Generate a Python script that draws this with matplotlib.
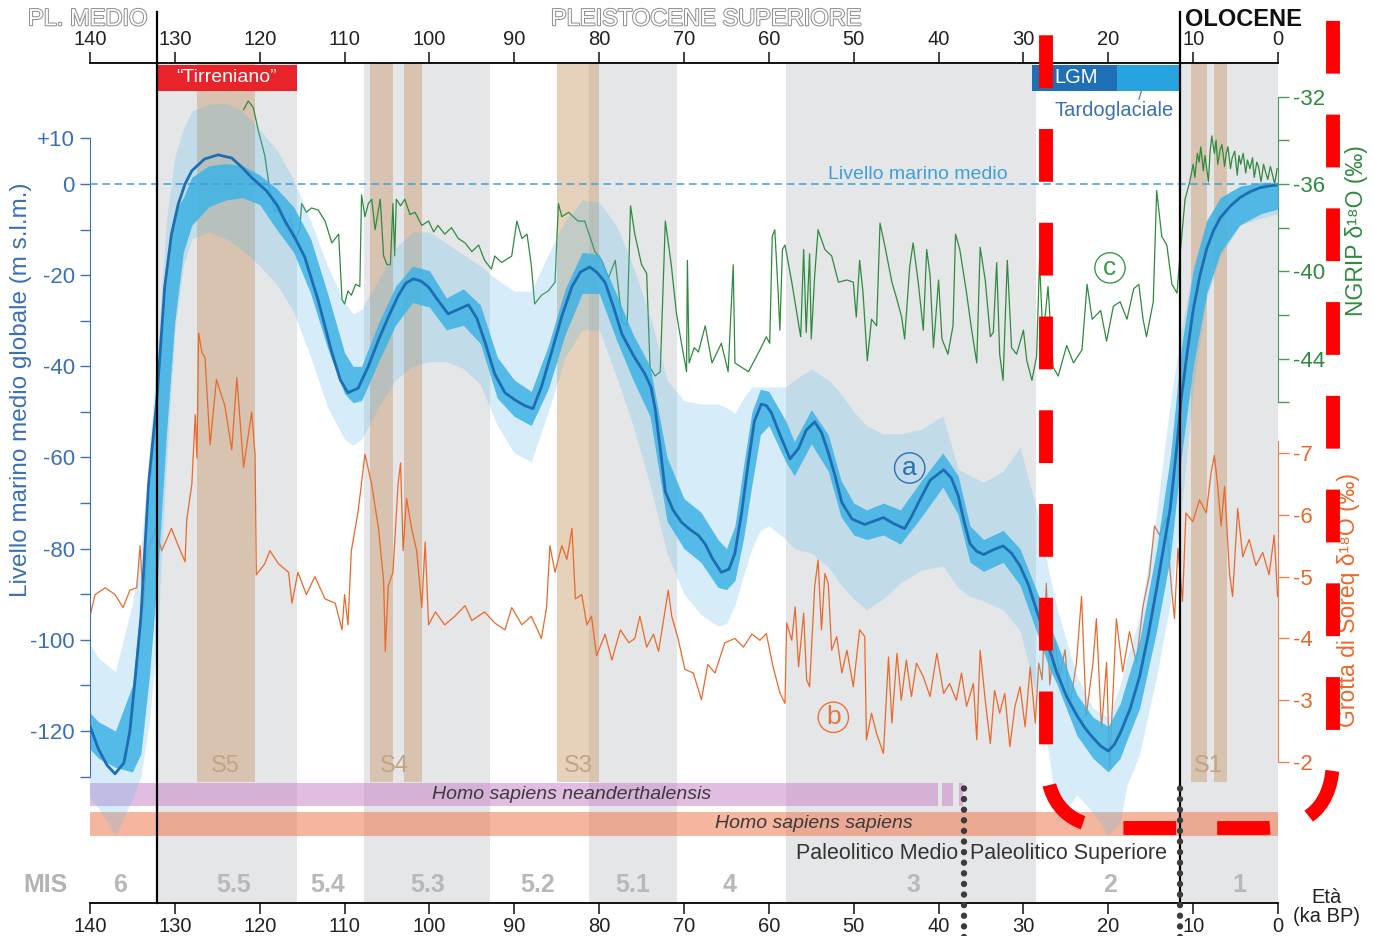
import matplotlib
matplotlib.use("Agg")
import matplotlib.pyplot as plt
import matplotlib.patheffects as pe
from matplotlib.patches import FancyBboxPatch

plt.rcParams['font.family'] = ['Liberation Sans', 'DejaVu Sans']

# --- data (ages in ka BP) ---------------------------------------------------
# (a) global mean sea level, m
SL_AGE = [140, 139, 138, 137.05, 136, 135.3, 134.7, 134, 133.1, 132.1, 131.2, 130.4,
          129.6, 128.8, 128, 126.5, 124.9, 123.3, 122, 120.95, 119.2, 118, 117, 115.8,
          114.7, 113.1, 111.5, 110.5, 109.6, 108.4, 107.2, 106, 104.8, 103.7, 102.8,
          101.9, 101, 100.1, 99, 97.8, 96.6, 95.4, 94.4, 93.4, 92.3, 91.1, 89.9, 88.8,
          87.8, 86.8, 85.6, 84.4, 83.2, 82.2, 81.1, 80.2, 79.3, 78.3, 77.3, 76, 74.6,
          73.9, 73.4, 72.8, 72.2, 71.3, 70.3, 69.3, 68.3, 67.5, 66.7, 65.6, 64.7, 64,
          63.2, 62.4, 61.7, 60.9, 60.3, 59.7, 58.7, 57.5, 56.5, 55.6, 54.6, 53.8, 53,
          52.2, 51.4, 50.2, 48.7, 47.7, 46.5, 45.3, 44, 43.2, 42.2, 41, 39.4, 38.5,
          37.7, 37, 36.3, 35.5, 34.7, 33.5, 32.4, 31.4, 30.4, 29.4, 28.45, 27.2, 26.1,
          24.9, 23.7, 22.7, 21.8, 20.9, 20, 19.3, 18.6, 17.4, 16.3, 15.3, 14.3, 13.5,
          12.7, 12, 11.4, 10.7, 10, 9.2, 8.4, 7.6, 6.8, 5.6, 4.5, 3.3, 2.1, 1, 0]
SL_M = [-119, -124, -127.5, -129.4, -127, -120, -109, -95, -66, -46.7, -22.6, -11,
        -4.4, 0, 2.9, 5.5, 6.4, 5.7, 3.5, 1.4, -1.5, -4.5, -8.2, -12,
        -16, -25.6, -37, -43, -45.8, -44.8, -40, -34.2, -29, -24.6, -21.8,
        -20.8, -21.3, -22.6, -25.5, -28.5, -27.5, -26.5, -29.5, -35, -41.7, -45.8, -47.4, -48.6,
        -49.3, -44.5, -36.9, -29, -22.5, -19.3, -18.2, -19.5, -21.6, -27, -33, -37.5, -41.7,
        -44.5, -49.3, -58, -67.5, -71.5, -74.2, -75.8, -77.1, -79, -82, -85.2, -84.5, -81,
        -72, -60.8, -52, -48.3, -48.6, -50.2, -55, -60.3, -58, -54, -52.2, -54.5, -58.9,
        -64, -69.9, -73.5, -74.7, -74, -73.2, -74.5, -75.6, -73, -69.3, -65, -62.7, -64.5,
        -68.3, -74, -78.9, -80.6, -81.3, -80.2, -79.4, -81, -83.8, -88, -93.5, -100.5, -107,
        -112.5, -116.6, -119.5, -121.5, -123.3, -124.4, -123, -120.5, -115, -108, -99, -88.7, -80,
        -71.2, -59, -47, -37, -27.7, -20, -14.2, -10.2, -7.4, -4.8, -3, -1.7, -0.8, -0.4, -0.2]

# uncertainty envelopes of (a)
BAND_AGE = [141, 139, 137, 135, 134, 133, 132, 131, 130, 129, 128, 126, 124, 122, 120,
            118, 116, 114, 112, 110, 109, 108, 106, 104, 102, 100, 98, 96, 94, 92, 90,
            88, 86, 84, 82, 80, 78, 76, 74, 72, 70, 68, 66, 65, 64, 63, 62, 61, 60, 58,
            57, 55, 53, 51.5, 50, 48.5, 46.5, 44.5, 42, 39.5, 37.7, 36.3, 34.7, 32.4,
            30.4, 28.5, 27, 26, 23.7, 21.8, 20, 18.6, 17.8, 16.3, 14.3, 12.7, 11.4, 10,
            8.4, 6.8, 4.5, 2, 0]
INNER_HI = [-114, -118, -120, -110, -92, -66, -42, -18, -6, -3, 1.5, 4, 4.5, 4, 2,
            -1, -5, -12, -24, -37, -40, -40, -30.5, -22.5, -18, -19, -25, -23, -26.5, -38, -43,
            -45.5, -35.5, -23, -15, -15.5, -24, -33, -40, -60, -69, -72, -78, -80, -75, -62, -50, -45, -45.5, -52,
            -56.5, -49.5, -55, -65, -70, -71.5, -70, -71.5, -65, -59, -64, -75, -78, -76,
            -80, -89, -96, -101, -112, -117, -119, -114, -109, -100, -80, -60, -36, -19,
            -8, -3, -0.5, 0.3, 0.3]
INNER_LO = [-122, -126, -128, -129, -125, -108, -85, -55, -30, -15, -9, -5, -3.5, -3, -4.5,
            -10, -15, -24, -36, -46, -48, -47.5, -39, -31, -26, -27, -32, -31, -35, -47, -51,
            -53, -45, -33, -24, -24, -34, -43, -51, -74, -80, -83, -88.5, -89, -87, -78, -66, -55, -53, -61,
            -64, -57, -63, -73, -77, -78, -77, -79, -73, -66.5, -72.5, -83, -85, -83,
            -88, -98, -106, -110, -121, -126, -129, -126, -122, -115, -98, -82, -60, -40,
            -24, -15, -9, -6.5, -5.5]
OUTER_HI = [-98, -104, -107, -92, -80, -58, -35, -8, 6, 12, 16, 17.5, 17.7, 16, 12,
            7.5, 1, -8, -18, -26, -28.5, -27.5, -21, -14, -10.5, -10.5, -13, -15.5, -18, -21, -23.5,
            -23.5, -15.5, -8, -3.5, -4, -9, -18, -29, -43, -47.5, -48.3, -48.3, -49, -50.3, -47, -44.5, -44.5, -44.5, -44.5,
            -43, -40.6, -43, -46, -50, -53, -54.8, -54.8, -53.8, -50.9, -62.5, -64, -65.4, -63,
            -57.7, -71, -85, -93.4, -108, -115, -117, -110, -104, -95, -72, -48, -32, -18,
            -8, -3, -0.5, 0.5, 0.5]
OUTER_LO = [-132, -137, -143, -135, -130, -118, -98, -62, -32, -18, -12, -10.5, -12, -14.5, -18,
            -22, -28, -38, -49, -56, -57.3, -56, -49, -43, -40, -39, -39, -40.5, -44, -53, -59,
            -61, -50, -38, -32, -32, -42, -53, -66, -81, -90, -94.5, -97, -96.5, -92.5, -86, -80, -76, -75, -78,
            -80, -81, -84, -88, -91, -93.4, -91, -87.5, -84.7, -83.8, -88.6, -90.5, -91.5, -93.4,
            -98, -112, -125, -140, -134, -138, -143, -140, -132, -125, -108, -92, -72, -45,
            -25, -16, -9, -7.5, -6.5]

# (c) NGRIP d18O, permil
NG_AGE = [121.9, 121.35, 120.75, 120.2, 119.4, 118.8, 118.2, 117.6, 117, 116.4, 115.8, 115.3,
          115.05, 114.5, 113.9, 113.1, 112.3, 111.5, 110.7, 110.3, 110, 109.6, 109.2, 108.7,
          108.2, 108, 107.6, 107.2, 106.8, 106.4, 105.8, 105.4, 105, 104.6, 104.3, 104.1,
          103.9, 103.4, 102.9, 102.3, 101.7, 100.9, 100.1, 99.5, 99, 98.2, 97.4, 96.6, 95.8,
          95, 94.2, 93.5, 92.7, 92.3, 91.5, 91.1, 90.3, 89.7, 89.1, 88.5, 88, 87.6, 86.8,
          86, 85.2, 84.8, 84.4, 83.6, 82.5, 81.7, 80.5, 79.7, 78.9, 78.1, 77.3, 76.7, 76.3,
          75.8, 75, 74.4, 74, 73.4, 72.8, 72.2, 71.5, 70.9, 70.3, 69.7, 69.6, 69.4, 68.8,
          68.3, 67.5, 66.7, 65.6, 64.8, 64.2, 64, 63.2, 62.4,
          61.05, 60.3, 59.9, 59.6, 59.3, 58.9, 58.7, 58.4, 58.1, 57.3, 56.5, 56.25, 55.9,
          55.6, 55.2, 55.0, 54.6, 54.2, 53.4, 52.6, 51.8, 50.8, 50.05, 49.7, 49.3, 48.9,
          48.4, 47.9, 47.3, 46.9, 46.3, 45.5, 44.9, 44.35, 44.0, 43.4, 43.0, 42.4, 41.8,
          41.4, 41.0, 40.6, 40.0, 39.6, 38.9, 38.3, 38.0, 37.5, 36.7, 36.1, 35.5, 35.1,
          34.5, 33.9, 33.55, 33.15, 32.8, 32.4, 31.9, 31.4, 30.8, 30.0, 29.6, 29.0, 28.45,
          28.1, 27.7, 27.1, 26.5,
          25.9, 24.9, 24.1, 23.1, 22.5, 21.9, 20.9, 20.2, 19.4, 18.6, 17.8, 17, 16.4, 15.9,
          15.5, 14.7, 14.3, 13.7, 13.1, 12.5, 11.9, 11.6, 11.35, 10.95, 10.4,
          10, 9.8, 9.5, 9.3, 9.1, 8.8, 8.6, 8.2, 8.0, 7.8, 7.5, 7.3, 7.1, 6.8, 6.6, 6.3, 6.1,
          5.9, 5.6, 5.4, 5.1, 4.8, 4.6, 4.4, 4.1, 3.8, 3.6, 3.3, 3.0, 2.8, 2.5, 2.3, 2.0,
          1.7, 1.5, 1.2, 0.9, 0.7, 0.4, 0.1]
NG_D18O = [-32.6, -32.2, -32.5, -33.5, -34.7, -36.3, -37.3, -37.0, -37.9, -37.6, -38.5, -38.1,
           -36.9, -37.3, -37.1, -37.2, -37.7, -38.7, -38.3, -41.3, -41.5, -40.9, -41.1, -40.6,
           -40.7, -36.5, -37.5, -36.9, -36.7, -38.1, -36.7, -39.3, -39.7, -39.7, -36.9, -39.3,
           -36.7, -37.0, -36.7, -37.4, -37.3, -37.9, -37.7, -38.2, -37.9, -38.3, -38.0, -38.5, -38.7,
           -39.1, -38.8, -39.5, -39.9, -39.3, -39.6, -39.5, -39.3, -37.7, -38.5, -38.3, -39.7, -41.5, -41.1,
           -40.9, -40.5, -36.9, -37.5, -37.3, -37.7, -37.7, -39.1, -39.5, -40.3, -39.5, -42.3, -42.5, -37,
           -38.3, -39.7, -40.1, -44.4, -44.8, -44.6, -37.7, -39.7, -41.9, -43.3, -44.6, -39.5, -44.2, -43.5,
           -43.7, -42.5, -44.2, -43.3, -44.6, -39.7, -44.2, -44.4, -44.6,
           -43.6, -43.0, -43.3, -38.4, -38.1, -41.0, -42.7, -39.0, -38.8, -40.5, -42.4, -43.0, -39.0,
           -42.8, -39.2, -43.1, -40.2, -38.1, -39.0, -39.3, -40.5, -40.4, -40.5, -42.1, -39.5, -41.0,
           -44.1, -42.2, -42.5, -37.8, -38.9, -40.5, -41.3, -42.1, -43.1, -39.8, -38.7, -40.5, -42.7,
           -39.0, -40.2, -43.5, -40.4, -43.1, -43.8, -42.5, -38.3, -39.0, -41.0, -42.7, -44.2, -38.9,
           -40.4, -43.0, -42.8, -39.6, -43.8, -45.0, -39.5, -43.5, -43.8, -42.7, -44.1, -45.0, -43.9,
           -39.5, -43.1, -40.7, -44.4,
           -44.8, -43.4, -44.2, -43.6, -40.6, -42.2, -41.8, -43.2, -41.6, -41.4, -42.2, -40.8, -40.6, -42.2,
           -43, -41.4, -36.3, -38.4, -38.8, -40.6, -41, -39.5, -38.4, -36.7, -35.9,
           -35.1, -35.7, -34.6, -35.0, -34.3, -35.4, -34.7, -35.9, -34.5, -33.8, -34.6, -34.0, -35.1,
           -34.4, -34.2, -35.2, -34.6, -34.3, -35.3, -34.8, -34.5, -35.6, -34.7, -35.1, -34.6, -35.5,
           -34.9, -35.3, -34.8, -35.7, -35.0, -35.2, -35.9, -35.1, -35.4, -35.8, -35.2, -35.5, -36.0,
           -35.3]

# (b) Soreq cave speleothem d18O, permil
SO_AGE = [140, 139.4, 138.2, 137.05, 136.1, 135.3, 134.5, 134.1, 133.7, 133.3, 132.3, 131.55,
          130.4, 129.6, 128.8, 128.6, 128, 127.6, 127.4, 127.2, 126.8, 126.45, 125.85, 125.1,
          124.1, 123.3, 122.7, 121.9, 120.95, 120.55, 120.4, 119.4, 118.8, 117.8, 116.6, 116.2,
          115.5, 114.5, 113.5, 112.3, 111.1, 110.3, 110, 109.6, 109.2, 108.4, 107.6, 106.8,
          106, 105.4, 105.2, 104.85, 104.3, 103.7, 103.4, 103.1, 102.7, 102.1, 101.5, 100.9,
          100.5, 100.1, 99.3, 98.2, 97, 95.8, 95, 93.5, 92.3, 91.1, 90.3, 89.1, 88, 86.8,
          86.2, 85.8, 85.2, 84.4, 83.8, 83.2, 82.8, 82.05, 81.45, 80.9, 80.3, 79.3, 78.5,
          77.5, 76.5, 75.8, 75.2, 74.4, 73.6, 73, 71.85, 71.45, 70.7, 69.9, 68.9, 67.95,
          67.2, 66.35, 65.2, 64, 63, 62,
          61.05, 60.3, 59.5, 58.7, 58.1, 57.9, 57.3, 56.9, 56.5, 55.9, 55.55, 55.2, 54.6,
          54.2, 53.8, 53.4, 53.0, 52.6, 52.0, 51.4, 50.8, 50.05, 49.3, 48.7, 48.5, 47.9,
          47.3, 46.5, 45.9, 45.5, 44.9, 44.4, 43.8, 43.2, 42.6, 41.8, 41.0, 40.2, 39.4,
          38.7, 37.9, 37.3, 36.7, 35.9, 35.5, 35.1, 34.5, 33.9, 33.4, 32.8, 32.2, 31.6,
          31.0, 30.4, 29.8, 29.2, 28.6, 28.2, 27.8, 27.3,
          26.9, 26.3, 25.7, 25.1, 24.55, 23.75, 23.15, 22.6, 21.8, 21.4, 20.8,
          20.2, 19.85, 19.05, 18.3, 17.5, 16.7, 15.9, 15.15, 14.55, 13.95, 13.2, 12.6, 12.2,
          11.8, 11.25, 10.85, 10.05, 9.25, 8.45, 7.9, 7.5, 7.1, 6.7, 6.3, 5.7, 5.35, 4.75,
          4.15, 3.4, 2.6, 1.8, 1.05, 0.45, 0.05]
SO_D18O = [-4.36, -4.71, -4.82, -4.71, -4.5, -4.78, -4.82, -5.5, -4.5, -5.35, -5.78, -5.42,
           -5.78, -5.5, -5.24, -5.92, -6.49, -7.62, -6.92, -8.94, -8.62, -8.55, -7.13, -8.19,
           -7.76, -7.05, -8.22, -6.77, -7.66, -6.98, -5.03, -5.21, -5.42, -5.21, -5.07, -4.57,
           -5.07, -4.71, -5.0, -4.64, -4.57, -4.14, -4.71, -4.22, -5.42, -6.06, -6.98, -6.49,
           -5.78, -4.93, -3.79, -4.85, -5.07, -6.49, -6.84, -5.42, -6.27, -5.78, -5.42, -4.5,
           -5.56, -4.22, -4.43, -4.22, -4.36, -4.53, -4.29, -4.43, -4.25, -4.14, -4.5, -4.22, -4.36, -4.0,
           -4.5, -5.5, -5.07, -5.5, -5.28, -5.78, -4.64, -4.71, -4.22, -4.36, -3.72, -4.07, -3.65,
           -4.14, -3.93, -4.0, -4.36, -3.86, -4.07, -3.79, -4.78, -4.36, -4.0, -3.5, -3.44, -3.01,
           -3.58, -3.44, -3.93, -4.0, -3.86, -4.07,
           -3.97, -4.08, -3.54, -3.12, -2.95, -4.25, -3.97, -4.51, -3.54, -4.41, -3.33, -3.22, -4.84,
           -5.27, -4.14, -5.05, -4.89, -3.81, -4.03, -3.44, -3.81, -3.22, -4.14, -4.03, -2.36, -2.79,
           -2.46, -2.14, -3.7, -2.63, -3.76, -3.0, -3.65, -3.06, -3.6, -3.38, -3.06, -3.76, -3.11,
           -3.27, -3.0, -3.44, -2.9, -3.27, -2.36, -3.81, -3.0, -2.3, -3.16, -2.79, -3.11, -2.25,
           -2.9, -3.22, -2.57, -3.54, -2.63, -3.6, -3.33, -4.89,
           -3.25, -3.96, -3.39, -3.82, -2.89, -3.61, -4.68, -2.75, -3.61, -4.32, -2.54,
           -3.61, -1.9, -4.32, -3.46, -4.11, -3.61, -4.53, -5.03, -5.82, -5.67, -5.96, -4.89, -4.32,
           -5.46, -4.6, -6.03, -5.89, -6.24, -6.03, -6.67, -6.96, -6.46, -5.82, -6.46, -5.03, -4.68, -6.1,
           -5.32, -5.6, -5.18, -5.39, -5.03, -5.67, -4.68]

# marine isotope stages (grey) and sapropels (tan)
MIS_GREY = [(132.1, 115.6), (107.7, 92.9), (81.2, 70.8), (58.0, 28.5), (11.6, 0)]
MIS_LABELS = ['6', '5.5', '5.4', '5.3', '5.2', '5.1', '4', '3', '2', '1']
MIS_LABEL_AGE = [136.5, 123.1, 112.0, 100.2, 87.2, 76.1, 64.6, 43.0, 19.8, 4.5]
SAPROPELS = [(127.4, 120.6), (107.0, 104.3), (103.0, 100.9), (85.0, 80.0), (10.3, 8.4), (7.6, 6.0)]
SAP_LABELS = ['S5', 'S4', 'S3', 'S1']
SAP_LABEL_AGE = [124.1, 104.1, 82.5, 8.25]

NEANDER = [(140, 40.1), (39.6, 38.3), (37.6, 37.1)]
SAPIENS = [(140, 0)]
TIRRENIANO = (132.1, 115.6)
LGM = (29.0, 19.0)
TARDOGLACIALE = (19.0, 11.6)
BOUNDARIES = [132.1, 11.6]      # solid black lines
PALEO_LIMITS = [37.0, 11.55]    # dotted lines

XTICKS = list(range(140, -1, -10))
SL_TICKS = list(range(-130, 11, 10))
SL_TICKLABELS = ['', '-120', '', '-100', '', '-80', '', '-60', '', '-40', '', '-20', '', '0', '+10']
NG_TICKS = list(range(-46, -31, 2))
NG_TICKLABELS = ['', '-44', '', '-40', '', '-36', '', '-32']
SO_TICKS = [-7, -6, -5, -4, -3, -2]

# --- colours ----------------------------------------------------------------
GREY = '#e5e6e8'
TAN = '#c89a6a'
BLUE_LINE = '#1d6db2'
BLUE_IN = '#3db2e5'
BLUE_OUT = '#5cbbe8'
BLUE_TXT = '#3b70b6'
GREEN = '#2f8a3f'
GREEN_AX = '#4a9a5a'
ORANGE = '#e9692a'
ORANGE_AX = '#e8844a'

W, H = 1374, 936
fig = plt.figure(figsize=(W / 100, H / 100), dpi=100)
rect = [90 / W, 33 / H, 1188 / W, 840 / H]
SL_LIM = (-157.75, 26.55)

# background axes (sea level scale)
ax = fig.add_axes(rect, zorder=0)
ax.set_xlim(140, 0)
ax.set_ylim(*SL_LIM)
ax.axis('off')

for a0, a1 in MIS_GREY:
    ax.axvspan(a1, a0, color=GREY, lw=0, zorder=0)
tan_bottom = (903 - 782) / 840
for a0, a1 in SAPROPELS:
    ax.axvspan(a1, a0, ymin=tan_bottom, ymax=1, color=TAN, alpha=0.45, lw=0, zorder=1)
for lab, age in zip(SAP_LABELS, SAP_LABEL_AGE):
    ax.text(age, -127.7, lab, ha='center', va='center', fontsize=17, color='#c2a383', zorder=2)

for a0, a1 in NEANDER:
    ax.barh(-134.0, a0 - a1, left=a1, height=5.0, color='#c77dc7', alpha=0.5, lw=0, zorder=2)
for a0, a1 in SAPIENS:
    ax.barh(-140.4, a0 - a1, left=a1, height=5.2, color='#f07850', alpha=0.55, lw=0, zorder=2)
ax.text(83.2, -134.0, 'Homo sapiens neanderthalensis', style='italic', fontsize=14,
        color='#3a3a3a', ha='center', va='center', zorder=3)
ax.text(54.7, -140.4, 'Homo sapiens sapiens', style='italic', fontsize=14,
        color='#3a3a3a', ha='center', va='center', zorder=3)
ax.text(37.7, -146.8, 'Paleolitico Medio', fontsize=15.5, color='#333333', ha='right', va='center')
ax.text(36.3, -146.8, 'Paleolitico Superiore', fontsize=15.5, color='#333333', ha='left', va='center')

ax.text(145.3, -153.8, 'MIS', fontsize=18, fontweight='bold', color='#b3b3b3',
        ha='center', va='center', clip_on=False)
for lab, age in zip(MIS_LABELS, MIS_LABEL_AGE):
    ax.text(age, -153.8, lab, fontsize=18, fontweight='bold', color='#b8b8b8',
            ha='center', va='center')

box_lo, box_hi = (903 - 91) / 840, (903 - 65) / 840
ax.axvspan(TIRRENIANO[1], TIRRENIANO[0], ymin=box_lo, ymax=box_hi, color='#e8242a', lw=0, zorder=3)
ax.text(sum(TIRRENIANO) / 2, 23.3, '\u201cTirreniano\u201d', color='white', fontsize=14,
        ha='center', va='center', zorder=4)
ax.axvspan(LGM[1], LGM[0], ymin=box_lo, ymax=box_hi, color='#1f6fb6', lw=0, zorder=3)
ax.axvspan(TARDOGLACIALE[1], TARDOGLACIALE[0], ymin=box_lo, ymax=box_hi, color='#27a3df', lw=0, zorder=3)
ax.text(23.8, 23.3, 'LGM', color='white', fontsize=14.5, ha='center', va='center', zorder=4)
ax.text(19.3, 16.2, 'Tardoglaciale', color=BLUE_TXT, fontsize=14.5, ha='center', va='center', zorder=4)
ax.plot([16.4, 16.1], [18.6, 20.3], color=BLUE_TXT, lw=0.8, zorder=4)

# Soreq axes
ax_so = fig.add_axes(rect, zorder=1, sharex=ax)
ax_so.patch.set_visible(False)
ax_so.set_ylim(0.28, -13.31)
ax_so.plot(SO_AGE, SO_D18O, color=ORANGE, lw=0.9)
for s in ['left', 'top', 'bottom']:
    ax_so.spines[s].set_visible(False)
ax_so.spines['right'].set_bounds(-7.2, -2)
ax_so.spines['right'].set_color(ORANGE_AX)
ax_so.yaxis.tick_right()
ax_so.set_yticks(SO_TICKS)
ax_so.set_yticklabels([str(t) for t in SO_TICKS])
ax_so.tick_params(axis='y', colors=ORANGE_AX, labelcolor=ORANGE, length=8, width=1,
                  labelsize=16, pad=3)
ax_so.tick_params(axis='x', which='both', bottom=False, top=False,
                  labelbottom=False, labeltop=False)
ax_so.set_ylabel('Grotta di Soreq \u03b4\u00b9\u2078O (\u2030)', color=ORANGE, fontsize=16.5)
ax_so.yaxis.set_label_position('right')
ax_so.yaxis.set_label_coords(1.0495, 0.361)

# NGRIP axes
ax_ng = fig.add_axes(rect, zorder=2, sharex=ax)
ax_ng.patch.set_visible(False)
ax_ng.set_ylim(-68.94, -30.46)
ax_ng.plot(NG_AGE, NG_D18O, color=GREEN, lw=0.9)
for s in ['left', 'top', 'bottom']:
    ax_ng.spines[s].set_visible(False)
ax_ng.spines['right'].set_bounds(-46, -32)
ax_ng.spines['right'].set_color(GREEN_AX)
ax_ng.yaxis.tick_right()
ax_ng.set_yticks(NG_TICKS)
ax_ng.set_yticklabels(NG_TICKLABELS)
ax_ng.tick_params(axis='y', colors=GREEN_AX, labelcolor=GREEN, length=8, width=1,
                  labelsize=16, pad=3)
ax_ng.tick_params(axis='x', which='both', bottom=False, top=False,
                  labelbottom=False, labeltop=False)
ax_ng.set_ylabel('NGRIP \u03b4\u00b9\u2078O (\u2030)', color=GREEN, fontsize=16.5)
ax_ng.yaxis.set_label_position('right')
ax_ng.yaxis.set_label_coords(1.0565, 0.80)

# sea level axes (top)
ax_sl = fig.add_axes(rect, zorder=3, sharex=ax, sharey=ax)
ax_sl.patch.set_visible(False)
ax_sl.fill_between(BAND_AGE, OUTER_LO, OUTER_HI, color=BLUE_OUT, alpha=0.25, lw=0, zorder=1)
ax_sl.fill_between(BAND_AGE, INNER_LO, INNER_HI, color=BLUE_IN, alpha=0.85, lw=0, zorder=2)
ax_sl.plot(SL_AGE, SL_M, color=BLUE_LINE, lw=2.0, zorder=3)
ax_sl.axhline(0, color='#3d9fd6', lw=1.1, ls=(0, (5, 3)), zorder=4)
ax_sl.text(42.4, 0.3, 'Livello marino medio', color='#3d9fd6', fontsize=14,
           ha='center', va='bottom', zorder=4)

for x in BOUNDARIES:
    ax_sl.axvline(x, ymin=0, ymax=1.061, color='black', lw=1.6, clip_on=False, zorder=6)
for x in PALEO_LIMITS:
    ax_sl.axvline(x, ymin=-0.04, ymax=0.144, color='#3c3c3c', lw=4.6, ls=(0, (0.01, 1.65)),
                  dash_capstyle='round', clip_on=False, zorder=7)

ax_sl.text(43.4, -62.3, 'a', color='#2a6fb5', fontsize=19, ha='center', va='center', zorder=5,
           bbox=dict(boxstyle='circle,pad=0.12', fc='none', ec='#2a6fb5', lw=1.0))
ax_sl.text(52.4, -117.0, 'b', color='#e8743a', fontsize=19, ha='center', va='center', zorder=5,
           bbox=dict(boxstyle='circle,pad=0.12', fc='none', ec='#e8743a', lw=1.0))
ax_sl.text(19.8, -18.4, 'c', color='#3c9a4c', fontsize=19, ha='center', va='center', zorder=5,
           bbox=dict(boxstyle='circle,pad=0.12', fc='none', ec='#3c9a4c', lw=1.0))

ax_sl.spines['right'].set_visible(False)
ax_sl.spines['left'].set_bounds(-130, 10)
ax_sl.spines['left'].set_color(BLUE_TXT)
ax_sl.spines['top'].set_linewidth(1.3)
ax_sl.spines['bottom'].set_linewidth(1.3)
ax_sl.set_yticks(SL_TICKS)
ax_sl.set_yticklabels(SL_TICKLABELS)
ax_sl.tick_params(axis='y', colors=BLUE_TXT, labelcolor=BLUE_TXT, length=7, width=1,
                  labelsize=16, pad=4)
ax_sl.set_xticks(XTICKS)
ax_sl.set_xticklabels([str(t) for t in XTICKS])
ax_sl.tick_params(axis='x', top=True, labeltop=True, bottom=True, labelbottom=True,
                  direction='out', length=8, width=1.2, labelsize=14.5, pad=2, colors='#222222')
ax_sl.set_ylabel('Livello marino medio globale (m s.l.m.)', color=BLUE_TXT, fontsize=17.5)
ax_sl.yaxis.set_label_coords(-0.049, 0.611)

hollow = [pe.Stroke(linewidth=1.4, foreground='#8a8a8a'), pe.Normal()]
ax_sl.text(-0.002, 1.052, 'PL. MEDIO', transform=ax_sl.transAxes, fontsize=17, color='white',
           ha='center', va='center', path_effects=hollow, clip_on=False)
ax_sl.text(0.5185, 1.052, 'PLEISTOCENE SUPERIORE', transform=ax_sl.transAxes, fontsize=17,
           color='white', ha='center', va='center', path_effects=hollow, clip_on=False)
ax_sl.text(0.922, 1.052, 'OLOCENE', transform=ax_sl.transAxes, fontsize=17, fontweight='bold',
           color='#111111', ha='left', va='center', clip_on=False)
ax_sl.text(1.041, -0.005, 'Et\u00e0\n(ka BP)', transform=ax_sl.transAxes, fontsize=14.5,
           color='#222222', ha='center', va='center', linespacing=1.0, clip_on=False)

# red dashed highlight drawn over the figure (pixel coordinates)
ax_o = fig.add_axes([0, 0, 1, 1], zorder=10)
ax_o.set_xlim(0, W)
ax_o.set_ylim(H, 0)
ax_o.axis('off')
ax_o.add_patch(FancyBboxPatch((1046, -60), 1333 - 1046, 828 + 60,
                              boxstyle='round,pad=0,rounding_size=70', fill=False,
                              ec='#ff0000', lw=10, ls=(4.54, (3.8, 2.95)), capstyle='butt'))

fig.savefig('out.png', dpi=100)
